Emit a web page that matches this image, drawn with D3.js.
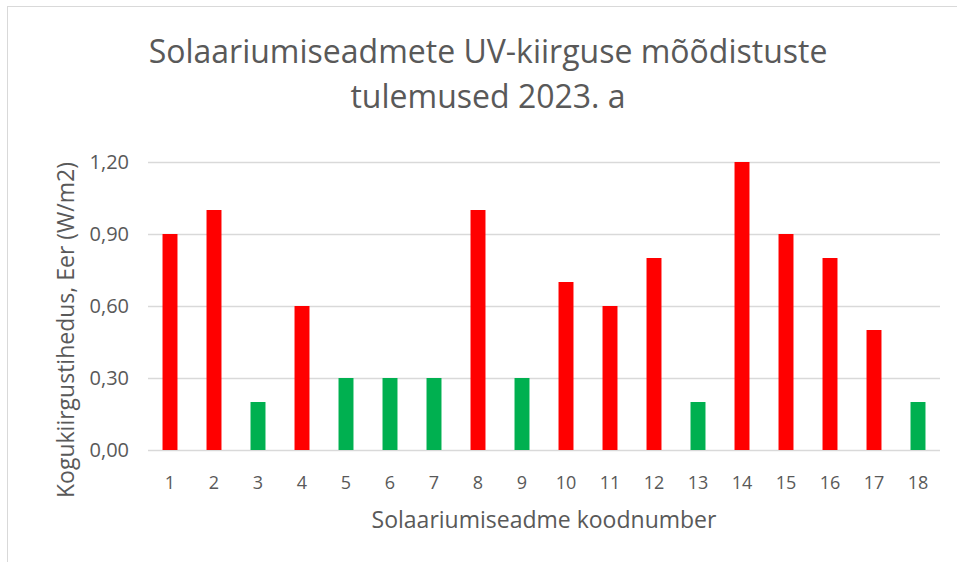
<!DOCTYPE html>
<html>
<head>
<meta charset="utf-8">
<script src="https://cdn.jsdelivr.net/npm/d3@7"></script>
<style>
  body { margin: 0; background: #fff; }
  text { font-family: "Open Sans", "Noto Sans", sans-serif; fill: #595959; }
</style>
</head>
<body>
<div id="chart"></div>
<script>
// device codes and measured Eer values
const codes = ["1","2","3","4","5","6","7","8","9","10","11","12","13","14","15","16","17","18"];
const values = [0.9, 1.0, 0.2, 0.6, 0.3, 0.3, 0.3, 1.0, 0.3, 0.7, 0.6, 0.8, 0.2, 1.2, 0.9, 0.8, 0.5, 0.2];
const yTicks = [0, 0.3, 0.6, 0.9, 1.2];
const titleLines = ["Solaariumiseadmete UV-kiirguse mõõdistuste", "tulemused 2023. a"];

const W = 957, H = 562;
const margin = {left: 148, right: 17, top: 162, bottom: 112};

const svg = d3.select("#chart").append("svg")
    .attr("width", W)
    .attr("height", H);

// outer frame
svg.append("rect")
    .attr("x", 7.5).attr("y", 6.5)
    .attr("width", W).attr("height", H)
    .attr("fill", "none")
    .attr("stroke", "#d9d9d9");

const x = d3.scaleBand()
    .domain(codes)
    .range([margin.left, W - margin.right])
    .paddingInner(0.66)
    .paddingOuter(0.33);

const y = d3.scaleLinear()
    .domain([0, 1.2])
    .range([H - margin.bottom, margin.top]);

const fmt = d => d3.format(".2f")(d).replace(".", ",");

// gridlines
svg.append("g")
  .selectAll("line")
  .data(yTicks)
  .join("line")
    .attr("x1", margin.left)
    .attr("x2", W - margin.right)
    .attr("y1", d => Math.round(y(d)) + 0.5)
    .attr("y2", d => Math.round(y(d)) + 0.5)
    .attr("stroke", "#d9d9d9")
    .attr("stroke-width", 1.5);

// y tick labels
svg.append("g")
  .selectAll("text")
  .data(yTicks)
  .join("text")
    .attr("x", 129)
    .attr("y", d => y(d))
    .attr("dy", "0.35em")
    .attr("text-anchor", "end")
    .attr("font-size", 20)
    .text(fmt);

// bars
svg.append("g")
  .selectAll("rect")
  .data(values)
  .join("rect")
    .attr("x", (d, i) => x(codes[i]))
    .attr("width", x.bandwidth())
    .attr("y", d => y(d))
    .attr("height", d => y(0) - y(d))
    .attr("fill", d => d <= 0.3 ? "#00b050" : "#ff0000");

// x tick labels
svg.append("g")
  .selectAll("text")
  .data(codes)
  .join("text")
    .attr("x", d => x(d) + x.bandwidth() / 2)
    .attr("y", 489)
    .attr("text-anchor", "middle")
    .attr("font-size", 18)
    .text(d => d);

// axis titles
svg.append("text")
    .attr("x", (margin.left + W - margin.right) / 2)
    .attr("y", 528)
    .attr("text-anchor", "middle")
    .attr("font-size", 23)
    .text("Solaariumiseadme koodnumber");

svg.append("text")
    .attr("transform", "translate(74," + (y(0.6) + 24) + ") rotate(-90)")
    .attr("text-anchor", "middle")
    .attr("font-size", 23)
    .text("Kogukiirgustihedus, Eer (W/m2)");

// title
svg.append("g")
  .selectAll("text")
  .data(titleLines)
  .join("text")
    .attr("x", 488)
    .attr("y", (d, i) => 63 + i * 45)
    .attr("text-anchor", "middle")
    .attr("font-size", 32)
    .text(d => d);
</script>
</body>
</html>
